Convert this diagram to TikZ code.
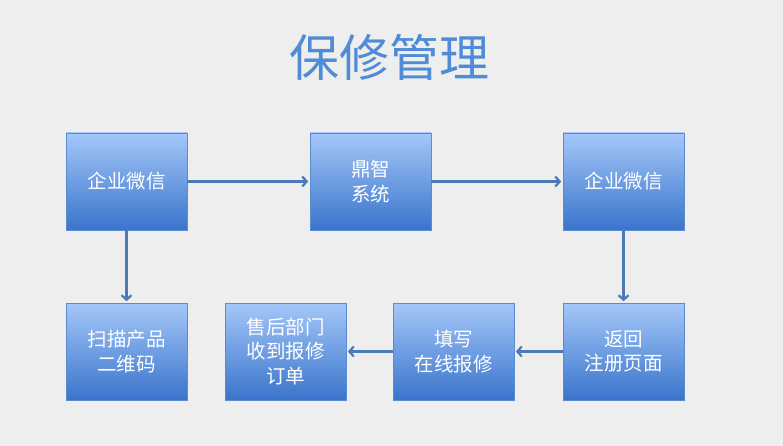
\documentclass[tikz,border=0pt]{standalone}
\usepackage{fontspec}
\setmainfont{Noto Sans CJK SC}
\usetikzlibrary{arrows.meta,shadows}
\definecolor{bgcol}{HTML}{EEEEEE}
\definecolor{titleblue}{HTML}{4F8BD6}
\definecolor{boxtop}{HTML}{A4C7F9}
\definecolor{boxbot}{HTML}{3A74CB}
\definecolor{boxline}{HTML}{5A8CCF}
\definecolor{arrowblue}{HTML}{4A7BB7}
\tikzset{
    stepbox/.style={draw=boxline, line width=0.6pt, top color=boxtop, bottom color=boxbot,
        minimum width=121pt, minimum height=97pt, text=white, font=\fontsize{19.5}{24.5}\selectfont,
        align=center, drop shadow={shadow xshift=1.2pt, shadow yshift=-1.2pt, opacity=0.25}},
    flow/.style={-{Straight Barb[length=4.5pt,width=10pt]}, arrowblue, line width=2.2pt, shorten >=1.5pt}
}
\begin{document}
\begin{tikzpicture}[x=1pt,y=1pt]
    \useasboundingbox[fill=bgcol] (0,0) rectangle (783,-446);
    \node[titleblue, font=\fontsize{50}{52}\selectfont] (title) at (389,-57) {保修管理};
    % top row
    \node[stepbox] (wxa) at (126.5,-181.5) {企业微信};
    \node[stepbox] (dz) at (370.5,-181.5) {鼎智\\系统};
    \node[stepbox] (wxb) at (623.5,-181.5) {企业微信};
    % bottom row
    \node[stepbox] (scan) at (126.5,-351.5) {扫描产品\\二维码};
    \node[stepbox] (sales) at (285.5,-351.5) {售后部门\\收到报修\\订单};
    \node[stepbox] (fill) at (453.5,-351.5) {填写\\在线报修};
    \node[stepbox] (back) at (623.5,-351.5) {返回\\注册页面};
    % connectors
    \draw[flow] (wxa) -- (dz);
    \draw[flow] (dz) -- (wxb);
    \draw[flow] (wxa) -- (scan);
    \draw[flow] (wxb) -- (back);
    \draw[flow] (back) -- (fill);
    \draw[flow] (fill) -- (sales);
\end{tikzpicture}
\end{document}
